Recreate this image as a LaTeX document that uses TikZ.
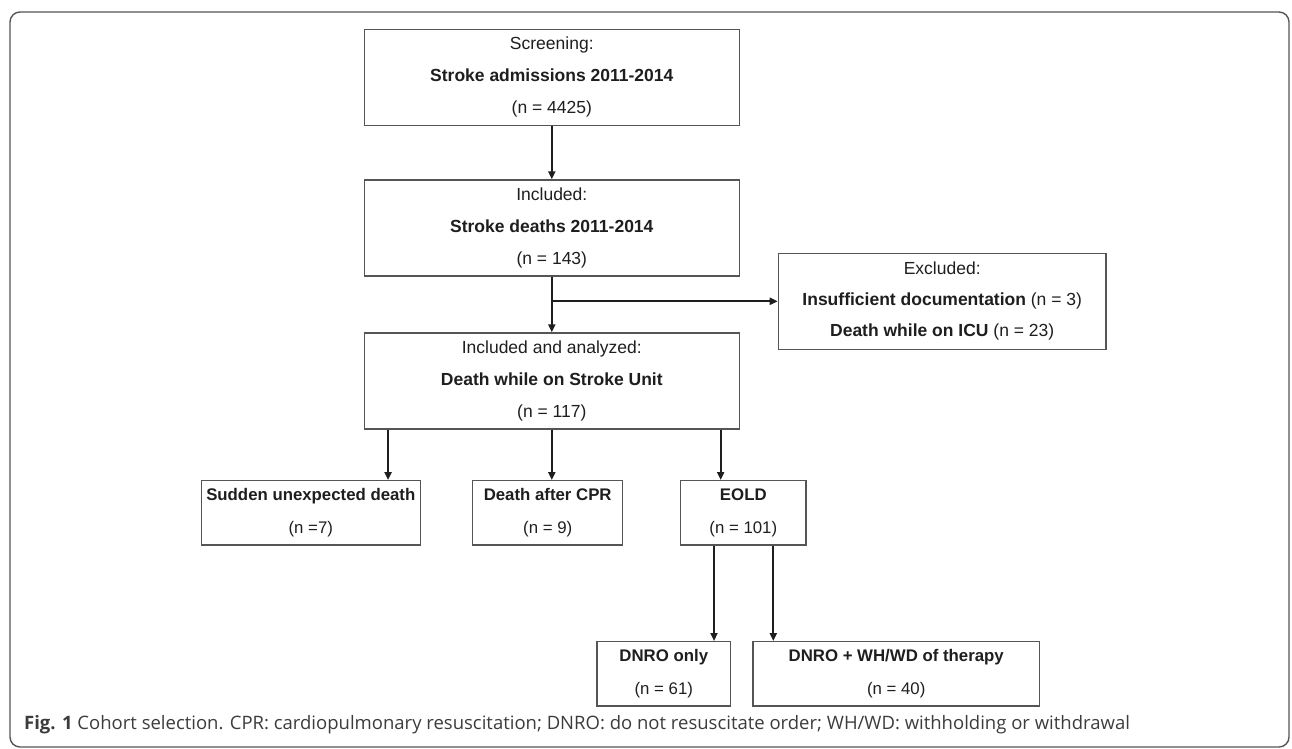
\documentclass[tikz,border=0pt]{standalone}
\usepackage{fontspec}
\setmainfont{Liberation Sans}
\newfontfamily\capfont{Open Sans}
\usepackage{xcolor}
\usepackage{tikz}
\usetikzlibrary{positioning, arrows.meta}

\definecolor{boxline}{HTML}{555555}
\definecolor{inktext}{HTML}{1E1E1E}
\definecolor{captext}{HTML}{3C3C3C}

\begin{document}
\begin{tikzpicture}[
  x=1pt, y=-1pt,
  box/.style={draw=boxline, line width=1.3pt, inner sep=0pt, align=center, text=inktext,
    font=\fontsize{17.5}{32}\selectfont},
  bigbox/.style={box, minimum width=375pt, minimum height=96pt},
  smallbox/.style={box, minimum height=64.3pt, font=\fontsize{16.8}{33}\selectfont},
  arr/.style={-{Triangle[length=8pt, width=7pt]}, line width=2.3pt, draw=inktext},
]
  \useasboundingbox (0,0) rectangle (1292,748);
  \draw[boxline, line width=1.4pt, rounded corners=10pt] (10,12) rectangle (1289,747);

  % main column
  \node[bigbox] (screen) at (551.8,77.3) {Screening:\\\textbf{Stroke admissions 2011-2014}\\(n = 4425)};
  \node[bigbox, below=53.4pt of screen] (incl) {Included:\\\textbf{Stroke deaths 2011-2014}\\(n = 143)};
  \node[bigbox, below=55.7pt of incl] (anal) {Included and analyzed:\\\textbf{Death while on Stroke Unit}\\(n = 117)};
  \node[box, minimum width=327.7pt, minimum height=96pt, font=\fontsize{17.5}{31}\selectfont] (excl) at (942.2,301.3)
    {Excluded:\\\textbf{Insufficient documentation} (n = 3)\\\textbf{Death while on ICU} (n = 23)};

  % outcome row
  \node[smallbox, minimum width=219.3pt] (sudden) at (310.8,512.8) {\textbf{Sudden unexpected death}\\(n =7)};
  \node[smallbox, minimum width=150pt] (cpr) at (547.7,512.8) {\textbf{Death after CPR}\\(n = 9)};
  \node[smallbox, minimum width=125.3pt] (eold) at (743.3,512.8) {\textbf{EOLD}\\(n = 101)};
  \node[smallbox, minimum width=133.7pt] (dnro) at (663.8,673.8) {\textbf{DNRO only}\\(n = 61)};
  \node[smallbox, minimum width=286.3pt] (wh) at (896.2,673.8) {\textbf{DNRO + WH/WD of therapy}\\(n = 40)};

  \coordinate (s1) at ([xshift=24.4pt]anal.south west);
  \coordinate (s3) at ([xshift=-19.3pt]anal.south east);
  \coordinate (e1) at ([xshift=34pt]eold.south west);
  \coordinate (e2) at ([xshift=-33.3pt]eold.south east);

  \draw[arr] (screen) -- (incl);
  \draw[arr] (incl) -- (anal);
  \draw[arr] (incl.south |- excl.west) -- (excl.west);
  \draw[arr] (s1) -- (s1 |- sudden.north);
  \draw[arr] (anal.south) -- (anal.south |- cpr.north);
  \draw[arr] (s3) -- (s3 |- eold.north);
  \draw[arr] (e1) -- (e1 |- dnro.north);
  \draw[arr] (e2) -- (e2 |- wh.north);

  \node[anchor=west, inner sep=0pt, text=captext, font=\capfont\fontsize{18.5}{22}\selectfont] (caption) at (24,725)
    {\textbf{Fig. 1} Cohort selection. CPR: cardiopulmonary resuscitation; DNRO: do not resuscitate order; WH/WD: withholding or withdrawal};
\end{tikzpicture}
\end{document}
